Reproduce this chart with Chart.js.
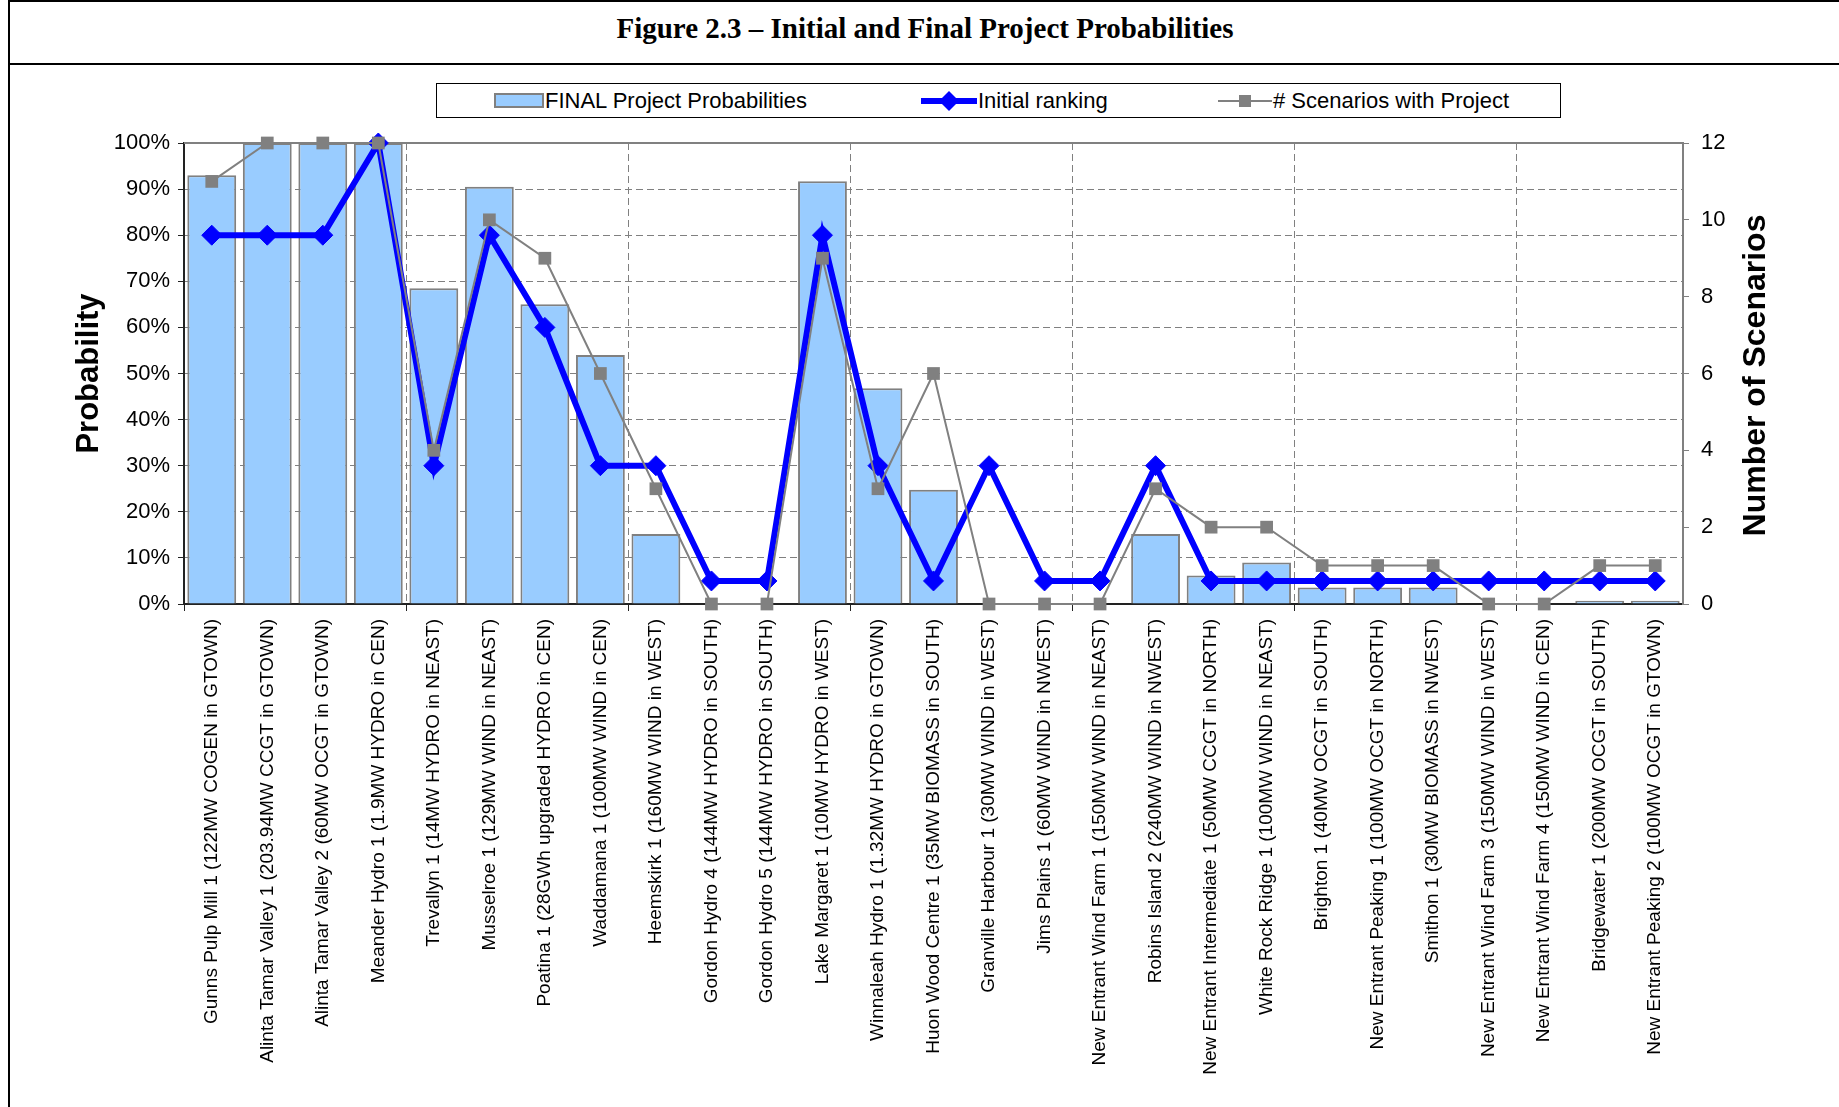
<!DOCTYPE html>
<html>
<head>
<meta charset="utf-8">
<title>Figure 2.3</title>
<script src="https://cdn.jsdelivr.net/npm/chart.js@4.4.1/dist/chart.umd.min.js"></script>
<style>
  html, body { margin: 0; padding: 0; background: #fff; }
  body { width: 1839px; height: 1107px; position: relative; overflow: hidden;
         font-family: "Liberation Sans", Arial, sans-serif; }
  #frame { position: absolute; left: 8px; top: 0; width: 1900px; height: 1200px;
           border-left: 2px solid #000; border-top: 2px solid #000; }
  #titleBar { position: absolute; left: 10px; top: 2px; width: 1840px; height: 61px;
              border-bottom: 2px solid #000; }
  #titleBar h1 { margin: 0; position: absolute; left: 0; width: 1830px; top: 10px;
                 text-align: center; font: bold 29px "Liberation Serif", "Times New Roman", serif; }
  #legend { position: absolute; left: 436px; top: 83px; width: 1125px; height: 35px;
            border: 1px solid #000; box-sizing: border-box; background: #fff; }
  #legend .item { position: absolute; top: 0; height: 33px; display: flex; align-items: center;
                  font-size: 22px; color: #000; white-space: nowrap; }
  #legend svg { display: block; margin-right: 1px; }
  #chartBox { position: absolute; left: 0; top: 0; }
</style>
</head>
<body>
<div id="frame"></div>
<div id="titleBar"><h1>Figure 2.3 – Initial and Final Project Probabilities</h1></div>
<div id="chartBox"><canvas id="probChart" width="1839" height="1107"></canvas></div>
<div id="legend"></div>

<script>
const projects = [
  'Gunns Pulp Mill 1 (122MW COGEN in GTOWN)',
  'Alinta Tamar Valley 1 (203.94MW CCGT in GTOWN)',
  'Alinta Tamar Valley 2 (60MW OCGT in GTOWN)',
  'Meander Hydro 1 (1.9MW HYDRO in CEN)',
  'Trevallyn 1 (14MW HYDRO in NEAST)',
  'Musselroe 1 (129MW WIND in NEAST)',
  'Poatina 1 (28GWh upgraded HYDRO in CEN)',
  'Waddamana 1 (100MW WIND in CEN)',
  'Heemskirk 1 (160MW WIND in WEST)',
  'Gordon Hydro 4 (144MW HYDRO in SOUTH)',
  'Gordon Hydro 5 (144MW HYDRO in SOUTH)',
  'Lake Margaret 1 (10MW HYDRO in WEST)',
  'Winnaleah Hydro 1 (1.32MW HYDRO in GTOWN)',
  'Huon Wood Centre 1 (35MW BIOMASS in SOUTH)',
  'Granville Harbour 1 (30MW WIND in WEST)',
  'Jims Plains 1 (60MW WIND in NWEST)',
  'New Entrant Wind Farm 1 (150MW WIND in NEAST)',
  'Robins Island 2 (240MW WIND in NWEST)',
  'New Entrant Intermediate 1 (50MW CCGT in NORTH)',
  'White Rock Ridge 1 (100MW WIND in NEAST)',
  'Brighton 1 (40MW OCGT in SOUTH)',
  'New Entrant Peaking 1 (100MW OCGT in NORTH)',
  'Smithon 1 (30MW BIOMASS in NWEST)',
  'New Entrant Wind Farm 3 (150MW WIND in WEST)',
  'New Entrant Wind Farm 4 (150MW WIND in CEN)',
  'Bridgewater 1 (200MW OCGT in SOUTH)',
  'New Entrant Peaking 2 (100MW OCGT in GTOWN)'
];

// final probability (%)
const finalProb = [93, 100, 100, 100, 68.5, 90.5, 65, 54, 15.2, 0, 0, 91.7, 46.8, 24.8, 0, 0, 0, 15.2, 6.2, 9, 3.6, 3.6, 3.6, 0, 0, 0.7, 0.7];
// initial ranking (%)
const initialRanking = [80, 80, 80, 100, 30, 80, 60, 30, 30, 5, 5, 80, 30, 5, 30, 5, 5, 30, 5, 5, 5, 5, 5, 5, 5, 5, 5];
// number of scenarios containing the project
const scenarioCount = [11, 12, 12, 12, 4, 10, 9, 6, 3, 0, 0, 9, 3, 6, 0, 0, 0, 3, 2, 2, 1, 1, 1, 0, 0, 1, 1];

const probAxis = { min: 0, max: 100, step: 10 };
const scenarioAxis = { min: 0, max: 12, step: 2 };

const BAR_FILL = '#99CCFF';
const GREY = '#808080';
const BLUE = '#0000FF';

Chart.defaults.font.family = '"Liberation Sans", Arial, sans-serif';
Chart.defaults.color = '#000';

// top edge of the plot frame + the right-hand axis title (reads bottom to top)
const plotExtras = {
  id: 'plotExtras',
  beforeDatasetsDraw(chart) {
    const { ctx, chartArea: a } = chart;
    ctx.save();
    ctx.strokeStyle = GREY;
    ctx.lineWidth = 2;
    ctx.beginPath();
    ctx.moveTo(a.left, a.top);
    ctx.lineTo(a.right, a.top);
    ctx.stroke();
    ctx.restore();
  },
  afterDraw(chart) {
    const { ctx, chartArea: a } = chart;
    const y2 = chart.scales.y2;
    ctx.save();
    ctx.translate(y2.left + 73, (a.top + a.bottom) / 2 + 2);
    ctx.rotate(-Math.PI / 2);
    ctx.textAlign = 'center';
    ctx.textBaseline = 'middle';
    ctx.fillStyle = '#000';
    ctx.font = 'bold 32px "Liberation Sans", Arial, sans-serif';
    ctx.fillText('Number of Scenarios', 0, 0);
    ctx.restore();
  }
};

const chart = new Chart(document.getElementById('probChart'), {
  data: {
    labels: projects,
    datasets: [
      {
        type: 'bar',
        label: 'FINAL Project Probabilities',
        data: finalProb,
        backgroundColor: BAR_FILL,
        borderColor: GREY,
        borderWidth: 2,
        barPercentage: 0.88,
        categoryPercentage: 1,
        yAxisID: 'y',
        order: 3
      },
      {
        type: 'line',
        label: 'Initial ranking',
        data: initialRanking,
        borderColor: BLUE,
        backgroundColor: BLUE,
        borderWidth: 6,
        pointStyle: 'rectRot',
        pointRadius: 10,
        pointBorderWidth: 1,
        tension: 0,
        clip: false,
        yAxisID: 'y',
        order: 2
      },
      {
        type: 'line',
        label: '# Scenarios with Project',
        data: scenarioCount,
        borderColor: GREY,
        backgroundColor: GREY,
        borderWidth: 2,
        pointStyle: 'rect',
        pointRadius: 9,
        pointBorderWidth: 0,
        tension: 0,
        clip: false,
        yAxisID: 'y2',
        order: 1
      }
    ]
  },
  options: {
    responsive: false,
    animation: false,
    events: [],
    layout: { padding: { top: 143, left: 0, right: 0, bottom: 0 } },
    plugins: { legend: { display: false }, title: { display: false }, tooltip: { enabled: false } },
    scales: {
      x: {
        offset: true,
        grid: {
          offset: true,
          color: c => (c.index % 4 === 0 ? GREY : 'transparent'),
          tickColor: c => (c.index % 4 === 0 ? '#222' : 'transparent'),
          tickLength: 7
        },
        border: { color: '#222', width: 2, dash: [7, 4] },
        ticks: { autoSkip: false, maxRotation: 90, minRotation: 90, padding: 8, font: { size: 19 } },
        afterFit: s => { s.height = 1107 - 604; }
      },
      y: {
        position: 'left',
        min: probAxis.min,
        max: probAxis.max,
        ticks: { stepSize: probAxis.step, padding: 8, font: { size: 22 }, callback: v => v + '%' },
        grid: {
          color: c => (c.tick.value === 0 || c.tick.value === 100 ? 'transparent' : GREY),
          tickColor: '#222',
          tickLength: 6
        },
        border: { color: '#222', width: 2, dash: [7, 4] },
        title: {
          display: true,
          text: 'Probability',
          color: '#000',
          font: { size: 31, weight: 'bold' },
          padding: { top: 71, bottom: 0 }
        },
        afterFit: s => { s.width = 184; }
      },
      y2: {
        position: 'right',
        min: scenarioAxis.min,
        max: scenarioAxis.max,
        ticks: { stepSize: scenarioAxis.step, padding: 12, font: { size: 22 } },
        grid: { drawOnChartArea: false, tickColor: GREY, tickLength: 6 },
        border: { color: GREY, width: 2 },
        afterFit: s => { s.width = 1839 - 1683; }
      }
    }
  },
  plugins: [plotExtras]
});

// legend row above the plot, styled after the datasets
const legendBox = document.getElementById('legend');
const legendItems = [
  { left: 57, label: chart.data.datasets[0].label,
    svg: `<svg width="50" height="15"><rect x="1" y="1" width="48" height="13" fill="${BAR_FILL}" stroke="${GREY}" stroke-width="2"/></svg>` },
  { left: 484, label: chart.data.datasets[1].label,
    svg: `<svg width="56" height="22"><line x1="0" y1="11" x2="56" y2="11" stroke="${BLUE}" stroke-width="6"/><polygon points="28,1 38,11 28,21 18,11" fill="${BLUE}"/></svg>` },
  { left: 781, label: chart.data.datasets[2].label,
    svg: `<svg width="54" height="16"><line x1="0" y1="8" x2="54" y2="8" stroke="${GREY}" stroke-width="2"/><rect x="21" y="2" width="12" height="12" fill="${GREY}"/></svg>` }
];
legendItems.forEach(it => {
  const el = document.createElement('div');
  el.className = 'item';
  el.style.left = it.left + 'px';
  el.innerHTML = it.svg + '<span>' + it.label + '</span>';
  legendBox.appendChild(el);
});
</script>
</body>
</html>
